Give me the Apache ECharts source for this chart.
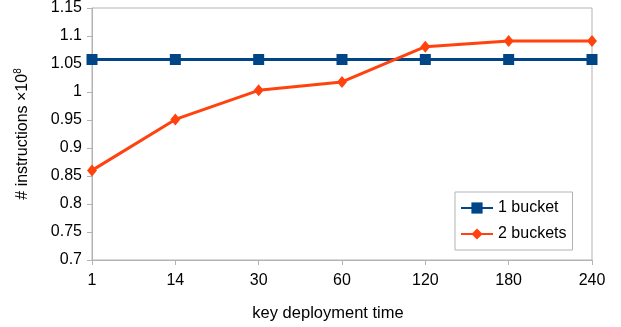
<!DOCTYPE html>
<html><head><meta charset="utf-8">
<script src="https://cdn.jsdelivr.net/npm/echarts@6/dist/echarts.min.js"></script>
<style>html,body{margin:0;padding:0;background:#fff}#c{width:621px;height:327px}</style>
</head><body><div id="c"></div>
<script>
const categories = ['1','14','30','60','120','180','240'];
const oneBucket = [1.058,1.058,1.058,1.058,1.058,1.058,1.058];
const twoBuckets = [0.860,0.951,1.003,1.018,1.081,1.091,1.091];
const yTicks = {min:0.7, max:1.15, interval:0.05};
const font = '"Liberation Sans", Arial, sans-serif';
const chart = echarts.init(document.getElementById('c'), null, {renderer:'canvas'});
chart.setOption({
  animation:false,
  grid:{left:92,right:29,top:7,bottom:67,show:true,borderColor:'#b3b3b3',borderWidth:1},
  xAxis:{type:'category',data:categories,boundaryGap:false,
    axisLine:{lineStyle:{color:'#b3b3b3'}},
    axisTick:{show:true,length:5,inside:false,lineStyle:{color:'#b3b3b3'},alignWithLabel:true},
    axisLabel:{color:'#000',fontFamily:font,fontSize:16,margin:13},
    name:'key deployment time',nameLocation:'middle',nameGap:45,
    nameTextStyle:{color:'#000',fontFamily:font,fontSize:16.5,padding:[0,28,0,0]}},
  yAxis:{type:'value',min:yTicks.min,max:yTicks.max,interval:yTicks.interval,
    axisLine:{show:true,lineStyle:{color:'#b3b3b3'}},
    axisTick:{show:true,length:5,lineStyle:{color:'#b3b3b3'}},
    splitLine:{show:false},
    axisLabel:{color:'#000',fontFamily:font,fontSize:16,margin:10,
      formatter:v=>String(parseFloat(v.toFixed(2)))},
    name:'# instructions ×10{sup|8}',nameLocation:'middle',nameGap:60,nameRotate:90,
    nameTextStyle:{color:'#000',fontFamily:font,fontSize:16,
      rich:{sup:{fontSize:10,verticalAlign:'top',padding:[0,0,9,0],color:'#000',fontFamily:font}}}},
  legend:{orient:'vertical',left:455,top:192,width:118,
    borderColor:'#b3b3b3',borderWidth:1,padding:[8,6,8,5],itemGap:10,
    itemWidth:32,itemHeight:14,
    textStyle:{color:'#000',fontFamily:font,fontSize:16},
    data:['1 bucket','2 buckets']},
  series:[
    {name:'1 bucket',type:'line',data:oneBucket,symbol:'rect',symbolSize:11,
      lineStyle:{color:'#004586',width:3},itemStyle:{color:'#004586'}},
    {name:'2 buckets',type:'line',data:twoBuckets,symbol:'diamond',symbolSize:[10,12],
      lineStyle:{color:'#ff420e',width:3},itemStyle:{color:'#ff420e'}}
  ]
});
</script></body></html>
